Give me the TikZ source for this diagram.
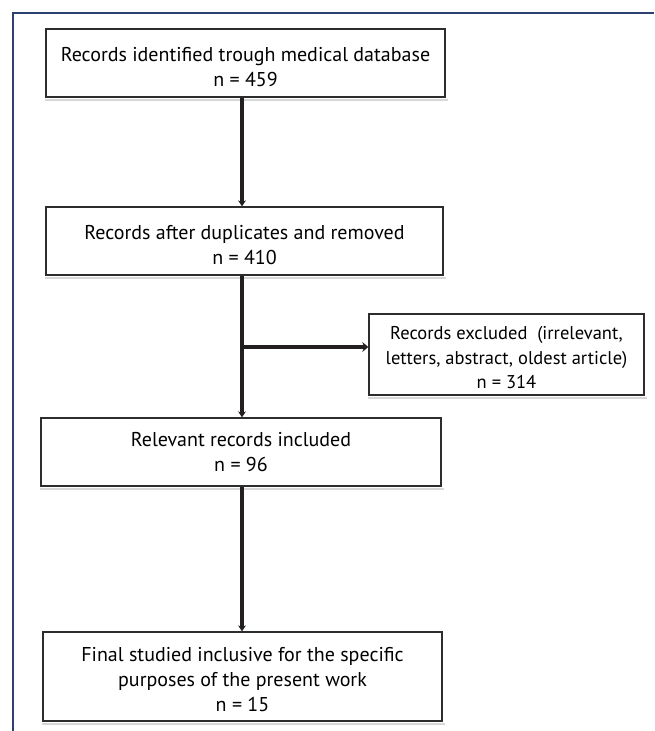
\documentclass[tikz,border=0pt]{standalone}
\usepackage{fontspec}
\setmainfont{PT Sans}
\usetikzlibrary{arrows.meta}
\definecolor{framecol}{RGB}{44,64,114}
\definecolor{boxline}{RGB}{45,45,45}
\definecolor{arrowcol}{RGB}{35,31,32}
\definecolor{shadowcol}{RGB}{215,215,215}
\newcommand\boxtext[2]{\raisebox{#1}[\height][\depth]{\begin{tabular}{@{}c@{}}#2\end{tabular}}}
\begin{document}
\begin{tikzpicture}[x=1pt,y=-1pt,
  box/.style={draw=boxline,line width=1.4pt,inner sep=0pt,
    font=\fontsize{20}{25}\selectfont},
  smallbox/.style={box,font=\fontsize{18.5}{24.5}\selectfont},
  conn/.style={draw=arrowcol,line width=3.2pt,-{Stealth[length=6pt,width=8pt]}},
  wideconn/.style={conn,line width=4.6pt,-{Stealth[length=6pt,width=10pt]}},
  shade/.style={draw=shadowcol,line width=1.2pt},
  frameline/.style={draw=framecol,line width=2.2pt}
]
\useasboundingbox (0,0) rectangle (654,731);
\draw[frameline] (13,731) -- (13,13) -- (654,13);

\node[box,minimum width=399pt,minimum height=68pt] (b1) at (245.5,63)
  {\boxtext{-6pt}{Records identified trough medical database\\n = 459}};
\node[box,minimum width=397pt,minimum height=68pt] (b2) at (244.5,241)
  {\boxtext{-6pt}{Records after duplicates and removed\\n = 410}};
\node[smallbox,minimum width=275pt,minimum height=81pt] (ex) at (506.5,354.5)
  {\boxtext{-5pt}{Records excluded\ \ (irrelevant,\\letters, abstract, oldest article)\\n = 314}};
\node[box,minimum width=400pt,minimum height=68pt] (b3) at (241,452)
  {\boxtext{-2pt}{Relevant records included\\n = 96}};
\node[box,minimum width=399pt,minimum height=89pt] (b4) at (242.5,676.5)
  {\boxtext{-5pt}{Final studied inclusive for the specific\\purposes of the present work\\n = 15}};

\foreach \n in {b1,b2,ex,b3,b4}{
  \draw[shade] ([yshift=-2.2pt]\n.south west) -- ([xshift=2pt,yshift=-2.2pt]\n.south east);
}

\coordinate (ax) at (242,0);
\coordinate (j) at (242,347);
\draw[conn] (ax |- b1.south) -- (ax |- b2.north);
\draw[conn] (ax |- b2.south) -- (ax |- b3.north);
\draw[wideconn] (j) -- (j -| ex.west);
\draw[conn] (ax |- b3.south) -- (ax |- b4.north);
\end{tikzpicture}
\end{document}
